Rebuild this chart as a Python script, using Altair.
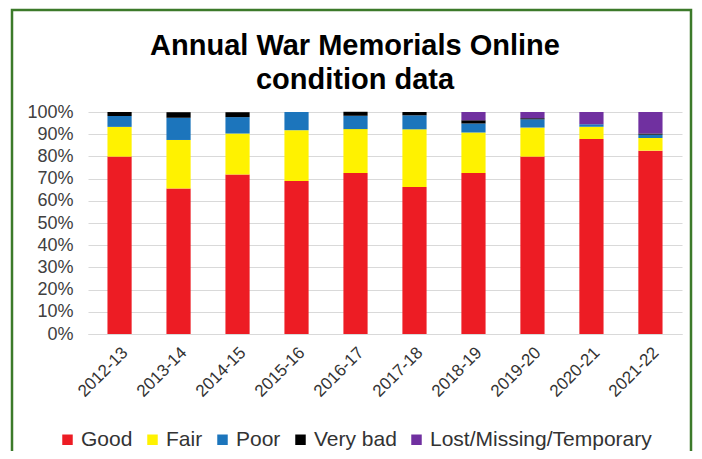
import altair as alt
import pandas as pd

years = ["2012-13", "2013-14", "2014-15", "2015-16", "2016-17",
         "2017-18", "2018-19", "2019-20", "2020-21", "2021-22"]
good = [79.9, 65.5, 71.9, 68.9, 72.5, 66.2, 72.5, 79.9, 87.8, 82.6]
fair = [13.4, 21.9, 18.4, 22.9, 19.8, 26.0, 18.3, 13.1, 5.5, 5.7]
poor = [4.9, 10.0, 7.4, 8.2, 6.0, 6.3, 4.0, 3.7, 1.2, 1.5]
very_bad = [1.8, 2.5, 2.2, 0.0, 1.8, 1.5, 1.5, 0.5, 0.0, 0.5]
lost = [0.0, 0.0, 0.0, 0.0, 0.0, 0.0, 3.7, 2.8, 5.5, 9.7]

categories = ["Good", "Fair", "Poor", "Very bad", "Lost/Missing/Temporary"]
colors = ["#ED1C24", "#FFF200", "#1C75BC", "#000000", "#7030A0"]
series = [good, fair, poor, very_bad, lost]

title_lines = ["Annual War Memorials Online", "condition data"]

rows = []
for ci, (cat, vals) in enumerate(zip(categories, series)):
    for y, v in zip(years, vals):
        rows.append({"year": y, "condition": cat, "value": v, "idx": ci})
df = pd.DataFrame(rows)

FONT = "Liberation Sans"
TXT = "#333333"

bars = alt.Chart(df).mark_bar().encode(
    x=alt.X("year:N", sort=years,
            scale=alt.Scale(paddingInner=0.59, paddingOuter=0.33),
            axis=alt.Axis(title=None, labelAngle=-45, ticks=False,
                          domainColor="#d9d9d9", labelFontSize=17,
                          labelColor=TXT, labelFont=FONT,
                          labelPadding=10)),
    y=alt.Y("value:Q", stack="zero",
            scale=alt.Scale(domain=[0, 100], nice=False),
            axis=alt.Axis(title=None, values=list(range(0, 101, 10)),
                          labelExpr="datum.value + '%'", domain=False,
                          ticks=False, gridColor="#d9d9d9", labelFontSize=18,
                          labelColor="#404040", labelFont=FONT,
                          labelPadding=15)),
    color=alt.Color("condition:N",
                    scale=alt.Scale(domain=categories, range=colors),
                    legend=alt.Legend(title=None, orient="none",
                                      direction="horizontal", columns=5,
                                      legendX=-31, legendY=317,
                                      symbolType="square", symbolSize=110,
                                      symbolStrokeWidth=0,
                                      labelFontSize=21, labelFont=FONT,
                                      labelColor=TXT, labelLimit=0,
                                      columnPadding=9, symbolOffset=0,
                                      labelOffset=3)),
    order=alt.Order("idx:Q", sort="ascending"),
)

title = alt.Chart(pd.DataFrame({"t": [0]})).mark_text(
    text=title_lines, font=FONT, fontSize=29, fontWeight="bold",
    color="#000000", align="center", baseline="alphabetic", lineHeight=34,
).encode(x=alt.value(267), y=alt.value(-57))

border = alt.Chart(pd.DataFrame({"k": [0]})).mark_rect(
    fill=None, stroke="#3C7A2A", strokeWidth=2.5, clip=False
).encode(
    x=alt.value(-76), x2=alt.value(603),
    y=alt.value(-102), y2=alt.value(360),
)

chart = alt.layer(border, title, bars).properties(
    width=594,
    height=222,
    autosize=alt.AutoSizeParams(type="none"),
    padding={"left": 80, "top": 104, "right": 12, "bottom": 117},
    background="#ffffff",
).configure_view(stroke=None)

chart.save("out.html", embed_options={"renderer": "svg", "actions": False})
